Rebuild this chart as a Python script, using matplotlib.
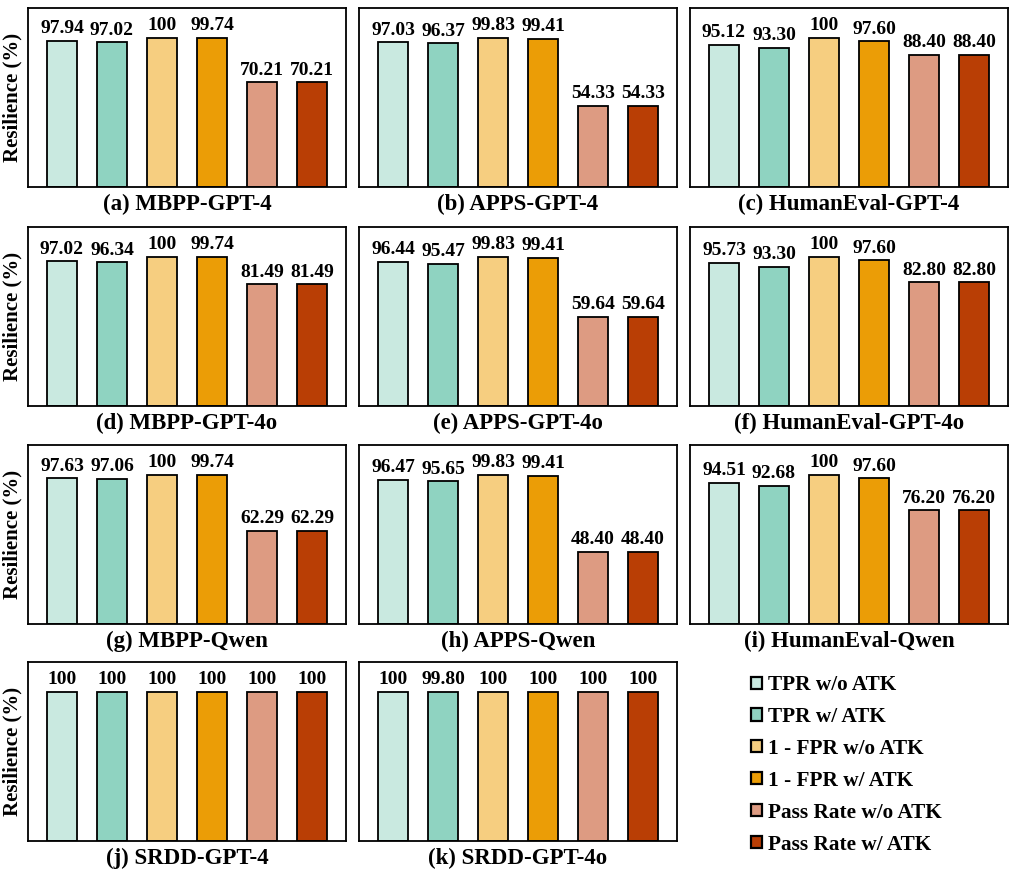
import matplotlib
matplotlib.use("Agg")
import matplotlib.pyplot as plt
from matplotlib.patches import Patch

plt.rcParams["font.family"] = ["Liberation Serif", "DejaVu Serif"]
plt.rcParams["font.weight"] = "bold"

SERIES = ["TPR w/o ATK", "TPR w/ ATK", "1 - FPR w/o ATK", "1 - FPR w/ ATK",
          "Pass Rate w/o ATK", "Pass Rate w/ ATK"]
COLORS = ["#c9e9e0", "#8fd3c1", "#f6ce80", "#eb9d06", "#dd9b82", "#b93e05"]

TITLES = ["(a) MBPP-GPT-4", "(b) APPS-GPT-4", "(c) HumanEval-GPT-4",
          "(d) MBPP-GPT-4o", "(e) APPS-GPT-4o", "(f) HumanEval-GPT-4o",
          "(g) MBPP-Qwen", "(h) APPS-Qwen", "(i) HumanEval-Qwen",
          "(j) SRDD-GPT-4", "(k) SRDD-GPT-4o"]

mbpp_gpt4 = [97.94, 97.02, 100, 99.74, 70.21, 70.21]
apps_gpt4 = [97.03, 96.37, 99.83, 99.41, 54.33, 54.33]
humaneval_gpt4 = [95.12, 93.30, 100, 97.60, 88.40, 88.40]
mbpp_gpt4o = [97.02, 96.34, 100, 99.74, 81.49, 81.49]
apps_gpt4o = [96.44, 95.47, 99.83, 99.41, 59.64, 59.64]
humaneval_gpt4o = [95.73, 93.30, 100, 97.60, 82.80, 82.80]
mbpp_qwen = [97.63, 97.06, 100, 99.74, 62.29, 62.29]
apps_qwen = [96.47, 95.65, 99.83, 99.41, 48.40, 48.40]
humaneval_qwen = [94.51, 92.68, 100, 97.60, 76.20, 76.20]
srdd_gpt4 = [100, 100, 100, 100, 100, 100]
srdd_gpt4o = [100, 99.80, 100, 100, 100, 100]

PANELS = [mbpp_gpt4, apps_gpt4, humaneval_gpt4,
          mbpp_gpt4o, apps_gpt4o, humaneval_gpt4o,
          mbpp_qwen, apps_qwen, humaneval_qwen,
          srdd_gpt4, srdd_gpt4o]

W, H = 1012, 871
COL_X = [28, 359, 690]
COL_W = 318
ROW_Y = [8, 227, 445, 662]
ROW_H = 179


def fmt(v):
    return "100" if v == 100 else f"{v:.2f}"


def draw_panel(fig, idx, values, title):
    r, c = divmod(idx, 3)
    ax = fig.add_axes([COL_X[c] / W, 1 - (ROW_Y[r] + ROW_H) / H,
                       COL_W / W, ROW_H / H])
    x = range(len(values))
    ax.bar(x, values, width=0.6, color=COLORS, edgecolor="black", linewidth=1.3)
    for xi, v in zip(x, values):
        ax.text(xi, v + 2.5, fmt(v), ha="center", va="bottom",
                fontsize=14, fontweight="bold")
    ax.set_xlim(-0.68, 5.68)
    ax.set_ylim(0, 120)
    ax.set_xticks([])
    ax.set_yticks([])
    for s in ax.spines.values():
        s.set_linewidth(1.3)
    ax.set_xlabel(title, fontsize=16.5, fontweight="bold", labelpad=5)
    if c == 0:
        ax.set_ylabel("Resilience (%)", fontsize=15, fontweight="bold", labelpad=4)
    return ax


def main():
    fig = plt.figure(figsize=(W / 100, H / 100), dpi=100)
    for i, (vals, title) in enumerate(zip(PANELS, TITLES)):
        draw_panel(fig, i, vals, title)

    handles = [Patch(facecolor=col, edgecolor="black", linewidth=1.6)
               for col in COLORS]
    fig.legend(handles, SERIES, loc="upper left",
               bbox_to_anchor=(732 / W, 1 - 656 / H), frameon=False,
               handlelength=0.5, handleheight=0.5, handletextpad=0.3,
               labelspacing=0.56, prop={"size": 15.3, "weight": "bold"})

    fig.savefig("out.png", dpi=100)


if __name__ == "__main__":
    main()
